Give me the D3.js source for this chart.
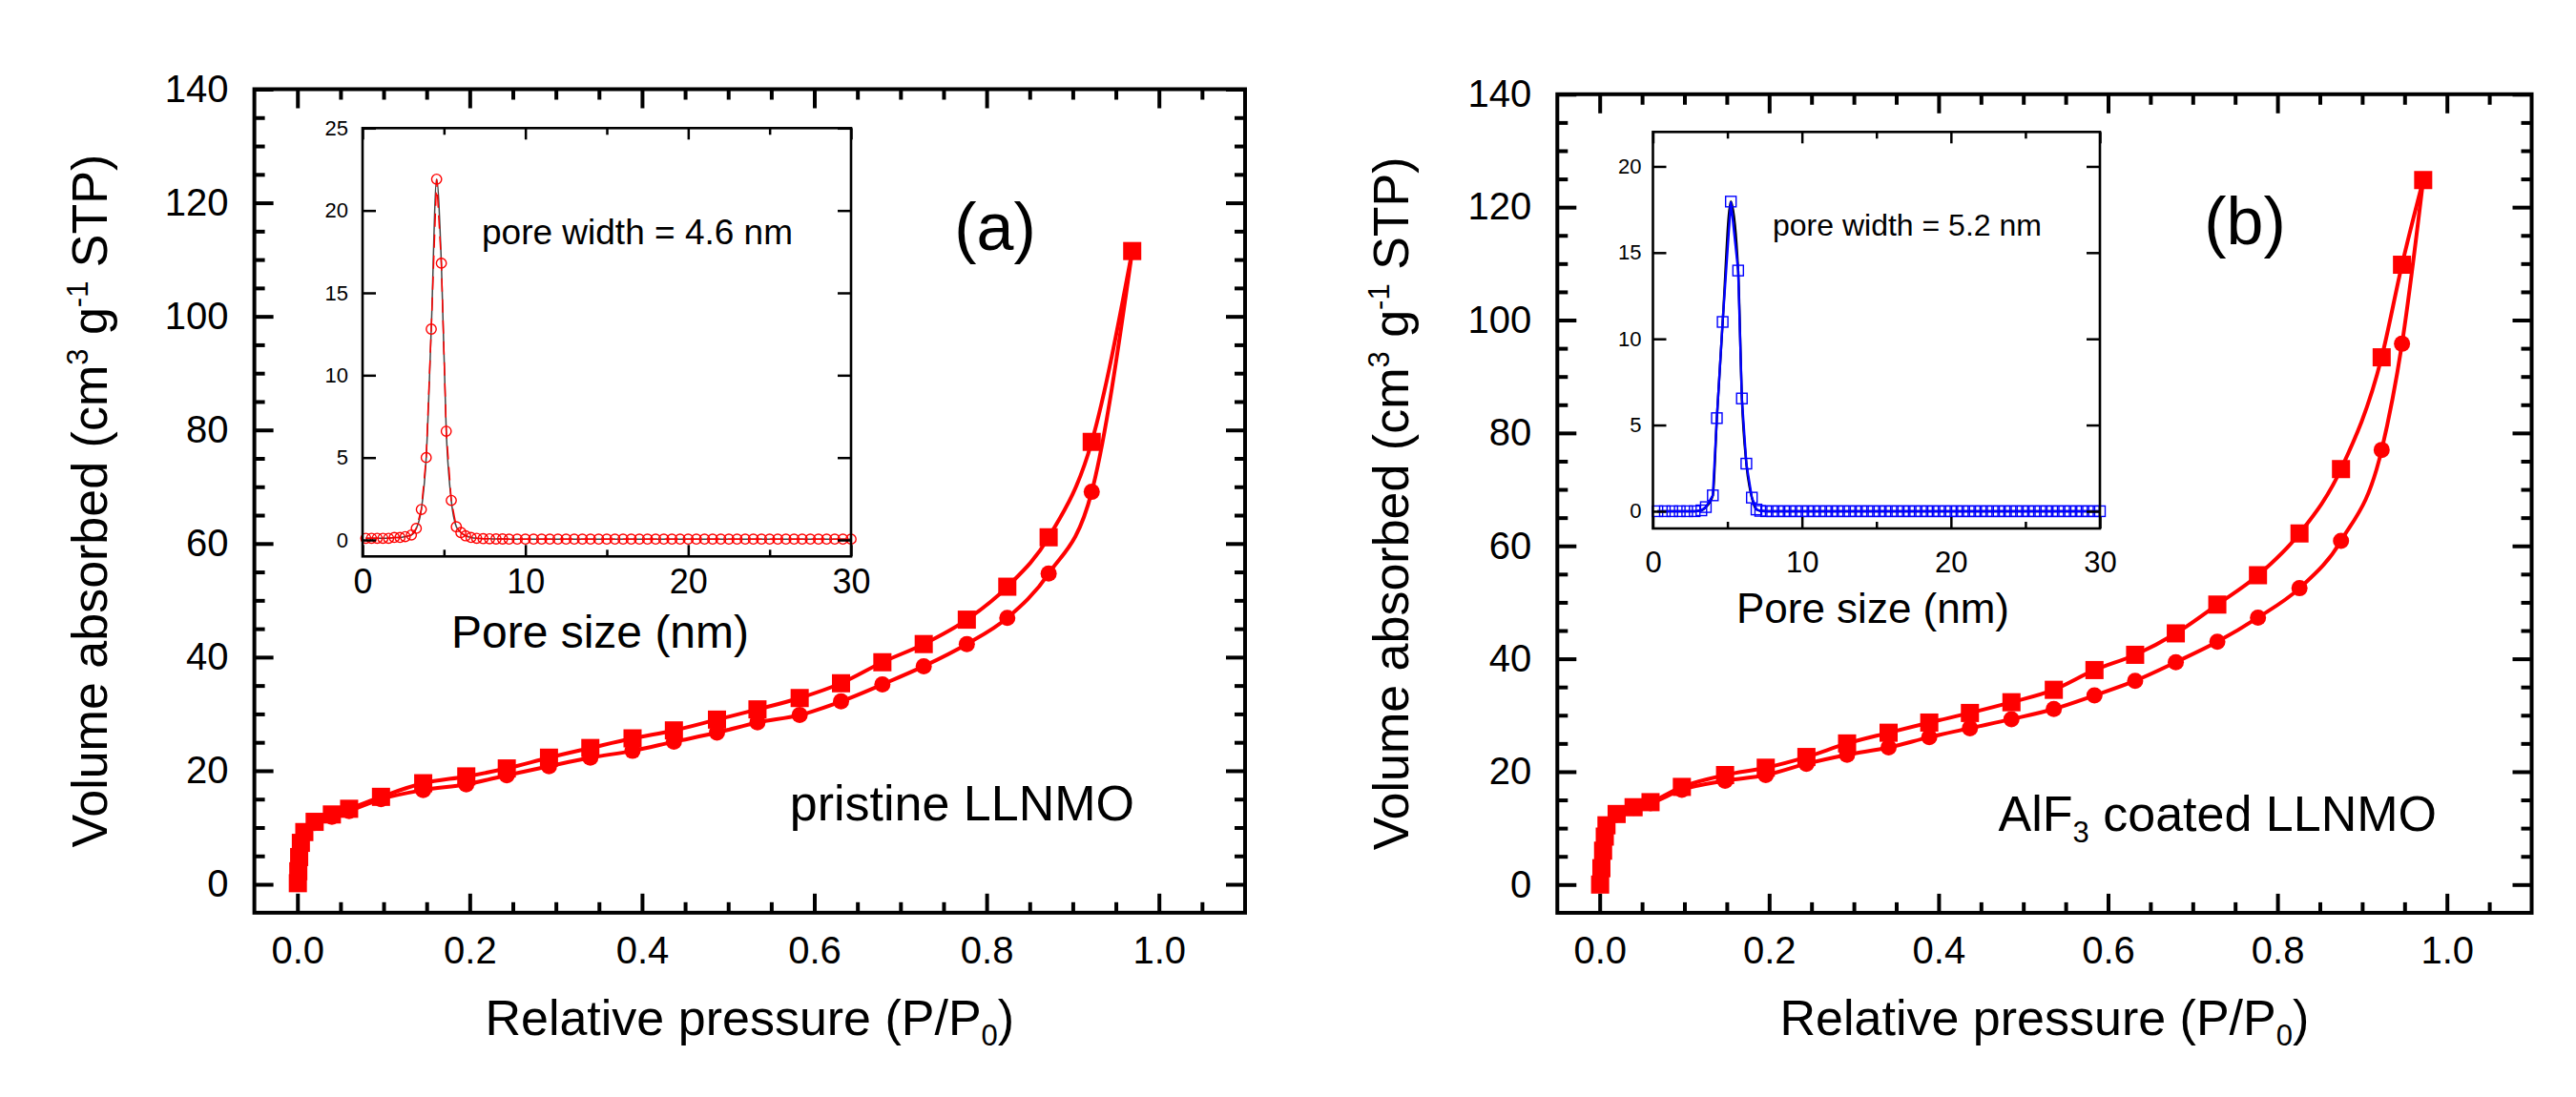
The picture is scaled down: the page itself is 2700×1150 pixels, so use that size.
<!DOCTYPE html>
<html>
<head>
<meta charset="utf-8">
<script src="https://cdn.jsdelivr.net/npm/d3@7"></script>
<style>
  body { margin: 0; background: #fff; }
  svg { display: block; font-family: "Liberation Sans", Arial, sans-serif; }
</style>
</head>
<body>
<div class="canvas"></div>
<script>
// N2 isotherms, panel (a) pristine LLNMO
const pressureA = [0.0005, 0.001, 0.002, 0.004, 0.008, 0.02, 0.04, 0.06, 0.097, 0.146, 0.196, 0.243, 0.292, 0.34,
    0.389, 0.437, 0.487, 0.534, 0.583, 0.631, 0.679, 0.727, 0.777, 0.824, 0.872, 0.922, 0.969];
const adsorbA = [0.2, 2.3, 4.8, 7.3, 9.2, 10.8, 11.9, 12.9, 15.0, 16.6, 17.6, 19.2, 20.8, 22.3,
    23.5, 25.1, 26.7, 28.5, 29.8, 32.2, 35.2, 38.4, 42.3, 46.9, 54.7, 69.1, 111.5];
const desorbA = [0.2, 2.3, 4.8, 7.3, 9.2, 11.0, 12.3, 13.3, 15.4, 17.8, 19.0, 20.4, 22.3, 24.0,
    25.7, 27.1, 29.0, 30.8, 32.8, 35.4, 39.1, 42.3, 46.6, 52.4, 61.1, 77.9, 111.5];

// panel (b) AlF3 coated LLNMO
const pressureB = [0.0005, 0.002, 0.004, 0.006, 0.008, 0.02, 0.04, 0.06, 0.097, 0.148, 0.196, 0.244, 0.292, 0.341,
    0.389, 0.437, 0.486, 0.536, 0.584, 0.632, 0.68, 0.729, 0.777, 0.826, 0.875, 0.923, 0.947, 0.972];
const adsorbB = [0, 2.9, 6.0, 8.5, 10.5, 12.4, 13.6, 14.4, 16.8, 18.4, 19.4, 21.4, 23.0, 24.3,
    26.1, 27.7, 29.3, 31.1, 33.5, 36.1, 39.4, 43.0, 47.3, 52.5, 60.9, 77.0, 95.8, 124.8];
const desorbB = [0, 2.9, 6.0, 8.5, 10.5, 12.5, 13.7, 14.6, 17.3, 19.4, 20.7, 22.6, 25.0, 26.9,
    28.7, 30.4, 32.3, 34.5, 38.0, 40.7, 44.5, 49.6, 54.8, 62.2, 73.6, 93.4, 109.8, 124.8];

// pore size distributions (insets)
const poreSizeA = [0.2, 0.55, 0.9, 1.25, 1.6, 1.95, 2.3, 2.62, 3.0, 3.3, 3.61, 3.91, 4.22, 4.55, 4.84, 5.14,
    5.45, 5.76, 6.04, 6.33, 6.66, 7.01, 7.4, 7.8, 8.2, 8.6, 9.0, 9.5, 10.0, 10.5, 11.0, 11.5, 12.0, 12.5,
    13.0, 13.5, 14.0, 14.5, 15.0, 15.5, 16.0, 16.5, 17.0, 17.5, 18.0, 18.5, 19.0, 19.5, 20.0, 20.5, 21.0,
    21.5, 22.0, 22.5, 23.0, 23.5, 24.0, 24.5, 25.0, 25.5, 26.0, 26.5, 27.0, 27.5, 28.0, 28.5, 29.0, 29.5, 30.0];
const poreVolA = [0.1, 0.1, 0.1, 0.1, 0.1, 0.15, 0.15, 0.2, 0.3, 0.7, 1.85, 5.0, 12.8, 21.9, 16.8, 6.6,
    2.4, 0.8, 0.45, 0.25, 0.15, 0.1, 0.08, 0.07, 0.06, 0.06, 0.05, 0.05, 0.05, 0.05, 0.05, 0.05, 0.05, 0.05,
    0.05, 0.05, 0.05, 0.05, 0.05, 0.05, 0.05, 0.05, 0.05, 0.05, 0.05, 0.05, 0.05, 0.05, 0.05, 0.05, 0.05,
    0.05, 0.05, 0.05, 0.05, 0.05, 0.05, 0.05, 0.05, 0.05, 0.05, 0.05, 0.05, 0.05, 0.05, 0.05, 0.05, 0.05, 0.05];
const poreSizeB = [0.3, 0.8, 1.3, 1.8, 2.3, 2.8, 3.25, 3.55, 4.02, 4.29, 4.68, 5.23, 5.72, 5.97, 6.27, 6.64,
    6.95, 7.2, 7.6, 8.0, 8.4, 8.8, 9.2, 9.6, 10.0, 10.4, 10.8, 11.2, 11.6, 12.0, 12.4, 12.8, 13.2, 13.6,
    14.0, 14.4, 14.8, 15.2, 15.6, 16.0, 16.4, 16.8, 17.2, 17.6, 18.0, 18.4, 18.8, 19.2, 19.6, 20.0, 20.4,
    20.8, 21.2, 21.6, 22.0, 22.4, 22.8, 23.2, 23.6, 24.0, 24.4, 24.8, 25.2, 25.6, 26.0, 26.4, 26.8, 27.2,
    27.6, 28.0, 28.4, 28.8, 29.2, 29.6, 30.0];
const poreVolB = [0, 0, 0, 0, 0, 0, 0.05, 0.24, 0.92, 5.4, 10.98, 17.96, 13.96, 6.54, 2.76, 0.79,
    0.1, 0.02, 0, 0, 0, 0, 0, 0, 0, 0, 0, 0, 0, 0, 0, 0, 0, 0,
    0, 0, 0, 0, 0, 0, 0, 0, 0, 0, 0, 0, 0, 0, 0, 0, 0,
    0, 0, 0, 0, 0, 0, 0, 0, 0, 0, 0, 0, 0, 0, 0, 0, 0,
    0, 0, 0, 0, 0, 0, 0];

// tick values
const xTicks = [0, 0.2, 0.4, 0.6, 0.8, 1.0];
const yTicks = [0, 20, 40, 60, 80, 100, 120, 140];
const insetXTicks = [0, 10, 20, 30];
const insetXMinor = [5, 15, 25];
const insetYTicksA = [0, 5, 10, 15, 20, 25];
const insetYTicksB = [0, 5, 10, 15, 20];

const RED = '#ff0000';
const BLUE = '#0000ff';

const svg = d3.select('.canvas')
    .append('svg')
    .attr('width', 2700)
    .attr('height', 1150);

const panels = [
    {
        pressure: pressureA, ads: adsorbA, des: desorbA,
        xRange: [266.6, 1305], yRange: [956.8, 93.5],
        yTitleX: 112, label: '(a)', labelPos: [1043, 262],
        sample: [{ t: 'pristine LLNMO' }], samplePos: [1189, 860],
        inset: {
            size: poreSizeA, vol: poreVolA, yMax: 25, yTicks: insetYTicksA,
            xRange: [380, 892], yRange: [583.3, 134.3],
            colour: RED, marker: 'circle', fitColour: '#444',
            note: 'pore width = 4.6 nm', notePos: [505, 256], noteSize: 37,
            titlePos: [629, 679], titleSize: 48,
            xLabelSize: 36, xLabelPad: 13, yLabelPad: 15
        }
    },
    {
        pressure: pressureB, ads: adsorbB, des: desorbB,
        xRange: [1632.3, 2653.5], yRange: [956.9, 98.8],
        yTitleX: 1476, label: '(b)', labelPos: [2353, 256],
        sample: [{ t: 'AlF' }, { t: '3', sub: true }, { t: ' coated LLNMO' }], samplePos: [2554, 871],
        inset: {
            size: poreSizeB, vol: poreVolB, yMax: 22, yTicks: insetYTicksB,
            xRange: [1732.5, 2201], yRange: [554, 138.3],
            colour: BLUE, marker: 'square', fitColour: '#000',
            note: 'pore width = 5.2 nm', notePos: [1858, 247], noteSize: 32,
            titlePos: [1963, 653], titleSize: 44,
            xLabelSize: 31, xLabelPad: 24, yLabelPad: 12
        }
    }
];

// tick styling helper
const styleTicks = (g, width, fontSize) => {
    g.select('.domain').remove();
    g.selectAll('line').attr('stroke', '#000').attr('stroke-width', width);
    g.selectAll('text').attr('fill', '#000').attr('font-size', fontSize)
        .attr('font-family', '"Liberation Sans", Arial, sans-serif');
};

const drawInset = (cfg) => {
    const x = d3.scaleLinear().domain([0, 30]).range(cfg.xRange);
    const y = d3.scaleLinear().domain([-1, cfg.yMax]).range(cfg.yRange);
    const g = svg.append('g');
    const [x0, x1] = cfg.xRange;
    const [y0, y1] = cfg.yRange;

    g.append('rect')
        .attr('x', x0).attr('y', y1)
        .attr('width', x1 - x0).attr('height', y0 - y1)
        .attr('fill', '#fff');

    const pts = cfg.size.map((s, i) => ({ s, v: cfg.vol[i] }));

    // fitted curve + data line
    const fit = d3.line().x(d => x(d.s)).y(d => y(d.v)).curve(d3.curveMonotoneX);
    const link = d3.line().x(d => x(d.s)).y(d => y(d.v));
    if (cfg.marker === 'circle') {
        g.append('path').attr('d', fit(pts)).attr('fill', 'none')
            .attr('stroke', cfg.fitColour).attr('stroke-width', 1.5);
        g.append('path').attr('d', link(pts)).attr('fill', 'none')
            .attr('stroke', cfg.colour).attr('stroke-width', 1.5)
            .attr('stroke-dasharray', '14 8');
        g.selectAll('circle.psd').data(pts).enter().append('circle')
            .attr('class', 'psd')
            .attr('cx', d => x(d.s)).attr('cy', d => y(d.v)).attr('r', 5.2)
            .attr('fill', 'none').attr('stroke', cfg.colour).attr('stroke-width', 1.4);
    } else {
        g.append('path').attr('d', fit(pts)).attr('fill', 'none')
            .attr('stroke', cfg.fitColour).attr('stroke-width', 2.4);
        g.append('path').attr('d', link(pts)).attr('fill', 'none')
            .attr('stroke', cfg.colour).attr('stroke-width', 2.4);
        g.selectAll('rect.psd').data(pts).enter().append('rect')
            .attr('class', 'psd')
            .attr('x', d => x(d.s) - 5.5).attr('y', d => y(d.v) - 5.5)
            .attr('width', 11).attr('height', 11)
            .attr('fill', 'none').attr('stroke', cfg.colour).attr('stroke-width', 1.4);
    }

    // axes, ticks pointing inwards
    g.append('g').attr('transform', `translate(0,${y0})`)
        .call(d3.axisBottom(x).tickValues(insetXTicks).tickSize(-12).tickPadding(cfg.xLabelPad))
        .call(a => styleTicks(a, 2.5, cfg.xLabelSize));
    g.append('g').attr('transform', `translate(0,${y0})`)
        .call(d3.axisBottom(x).tickValues(insetXMinor).tickSize(-7).tickFormat(''))
        .call(a => styleTicks(a, 2.5, 0));
    g.append('g').attr('transform', `translate(0,${y1})`)
        .call(d3.axisTop(x).tickValues(insetXTicks).tickSize(-12).tickFormat(''))
        .call(a => styleTicks(a, 2.5, 0));
    g.append('g').attr('transform', `translate(0,${y1})`)
        .call(d3.axisTop(x).tickValues(insetXMinor).tickSize(-7).tickFormat(''))
        .call(a => styleTicks(a, 2.5, 0));
    g.append('g').attr('transform', `translate(${x0},0)`)
        .call(d3.axisLeft(y).tickValues(cfg.yTicks).tickSize(-14).tickPadding(cfg.yLabelPad))
        .call(a => styleTicks(a, 2.5, 22));
    g.append('g').attr('transform', `translate(${x1},0)`)
        .call(d3.axisRight(y).tickValues(cfg.yTicks).tickSize(-14).tickFormat(''))
        .call(a => styleTicks(a, 2.5, 0));

    g.append('rect')
        .attr('x', x0).attr('y', y1)
        .attr('width', x1 - x0).attr('height', y0 - y1)
        .attr('fill', 'none').attr('stroke', '#000').attr('stroke-width', 2.6);

    g.append('text')
        .attr('x', cfg.notePos[0]).attr('y', cfg.notePos[1])
        .attr('font-size', cfg.noteSize)
        .text(cfg.note);

    g.append('text')
        .attr('x', cfg.titlePos[0]).attr('y', cfg.titlePos[1])
        .attr('text-anchor', 'middle')
        .attr('font-size', cfg.titleSize)
        .text('Pore size (nm)');
};

const drawPanel = (p) => {
    const x = d3.scaleLinear().domain([-0.05, 1.1]).range(p.xRange);
    const y = d3.scaleLinear().domain([-5, 140]).range(p.yRange);
    const [x0, x1] = p.xRange;
    const [y0, y1] = p.yRange;
    const g = svg.append('g');

    const xMinor = d3.range(0.05, 1.1, 0.05).filter(v => Math.abs(v * 5 - Math.round(v * 5)) > 1e-6);
    const yMinor = d3.range(5, 140, 5).filter(v => v % 20 !== 0);

    // main axes with inward ticks on all four sides
    g.append('g').attr('transform', `translate(0,${y0})`)
        .call(d3.axisBottom(x).tickValues(xTicks).tickSize(-20).tickPadding(25)
            .tickFormat(d3.format('.1f')))
        .call(a => styleTicks(a, 4, 40));
    g.append('g').attr('transform', `translate(0,${y0})`)
        .call(d3.axisBottom(x).tickValues(xMinor).tickSize(-11).tickFormat(''))
        .call(a => styleTicks(a, 4, 0));
    g.append('g').attr('transform', `translate(0,${y1})`)
        .call(d3.axisTop(x).tickValues(xTicks).tickSize(-20).tickFormat(''))
        .call(a => styleTicks(a, 4, 0));
    g.append('g').attr('transform', `translate(0,${y1})`)
        .call(d3.axisTop(x).tickValues(xMinor).tickSize(-11).tickFormat(''))
        .call(a => styleTicks(a, 4, 0));
    g.append('g').attr('transform', `translate(${x0},0)`)
        .call(d3.axisLeft(y).tickValues(yTicks).tickSize(-20).tickPadding(27))
        .call(a => styleTicks(a, 4, 40));
    g.append('g').attr('transform', `translate(${x0},0)`)
        .call(d3.axisLeft(y).tickValues(yMinor).tickSize(-11).tickFormat(''))
        .call(a => styleTicks(a, 4, 0));
    g.append('g').attr('transform', `translate(${x1},0)`)
        .call(d3.axisRight(y).tickValues(yTicks).tickSize(-20).tickFormat(''))
        .call(a => styleTicks(a, 4, 0));
    g.append('g').attr('transform', `translate(${x1},0)`)
        .call(d3.axisRight(y).tickValues(yMinor).tickSize(-11).tickFormat(''))
        .call(a => styleTicks(a, 4, 0));

    g.append('rect')
        .attr('x', x0).attr('y', y1)
        .attr('width', x1 - x0).attr('height', y0 - y1)
        .attr('fill', 'none').attr('stroke', '#000').attr('stroke-width', 4);

    // isotherm branches
    const ads = p.pressure.map((pp, i) => ({ p: pp, v: p.ads[i] }));
    const des = p.pressure.map((pp, i) => ({ p: pp, v: p.des[i] }));
    const line = d3.line().x(d => x(d.p)).y(d => y(d.v)).curve(d3.curveMonotoneX);

    [ads, des].forEach(series => {
        g.append('path').attr('d', line(series))
            .attr('fill', 'none').attr('stroke', RED).attr('stroke-width', 4);
    });

    g.selectAll('circle.ads').data(ads).enter().append('circle')
        .attr('class', 'ads')
        .attr('cx', d => x(d.p)).attr('cy', d => y(d.v)).attr('r', 8.5)
        .attr('fill', RED);
    g.selectAll('rect.des').data(des).enter().append('rect')
        .attr('class', 'des')
        .attr('x', d => x(d.p) - 9.5).attr('y', d => y(d.v) - 9.5)
        .attr('width', 19).attr('height', 19)
        .attr('fill', RED);

    // axis titles
    const xt = g.append('text')
        .attr('x', (x0 + x1) / 2).attr('y', 1085)
        .attr('text-anchor', 'middle').attr('font-size', 52);
    xt.append('tspan').text('Relative pressure (P/P');
    xt.append('tspan').attr('font-size', 31).attr('dy', 11).text('0');
    xt.append('tspan').attr('dy', -11).text(')');

    const yt = g.append('text')
        .attr('transform', `translate(${p.yTitleX},${(y0 + y1) / 2}) rotate(-90)`)
        .attr('text-anchor', 'middle').attr('font-size', 52);
    yt.append('tspan').text('Volume absorbed (cm');
    yt.append('tspan').attr('font-size', 31).attr('dy', -20).text('3');
    yt.append('tspan').attr('dy', 20).text(' g');
    yt.append('tspan').attr('font-size', 31).attr('dy', -20).text('-1');
    yt.append('tspan').attr('dy', 20).text(' STP)');

    g.append('text')
        .attr('x', p.labelPos[0]).attr('y', p.labelPos[1])
        .attr('text-anchor', 'middle').attr('font-size', 70)
        .text(p.label);

    const st = g.append('text')
        .attr('x', p.samplePos[0]).attr('y', p.samplePos[1])
        .attr('text-anchor', 'end').attr('font-size', 52);
    let shifted = false;
    p.sample.forEach(part => {
        const ts = st.append('tspan').text(part.t);
        if (part.sub) { ts.attr('font-size', 31).attr('dy', 12); shifted = true; }
        else if (shifted) { ts.attr('dy', -12); shifted = false; }
    });

    drawInset(p.inset);
};

panels.forEach(drawPanel);
</script>
</body>
</html>
